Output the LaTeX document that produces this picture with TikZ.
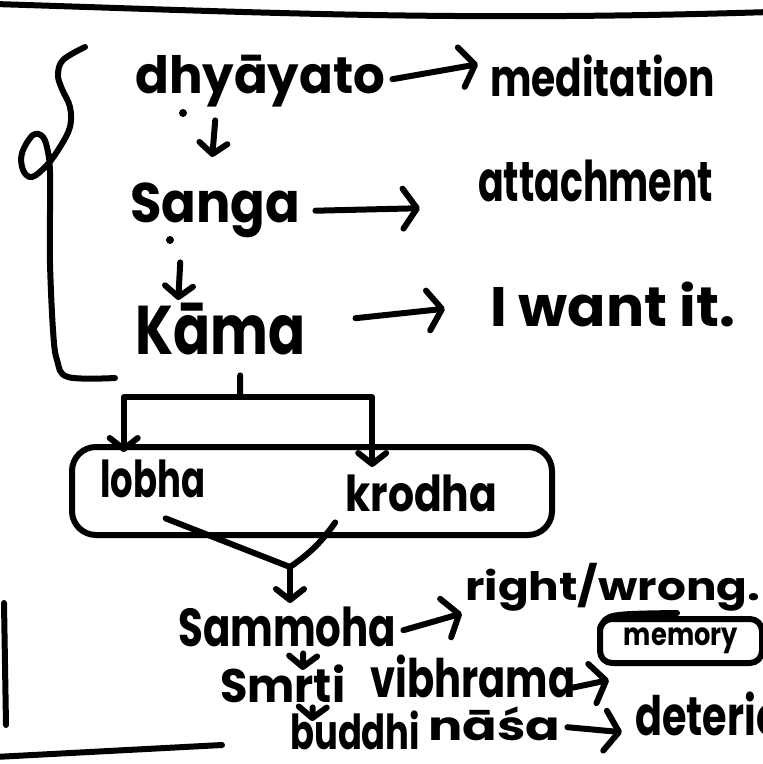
\documentclass[tikz,border=0pt]{standalone}
\usepackage{fontspec}
\setmainfont{Poppins}
\usetikzlibrary{arrows.meta}
% a word stretched to a given width and total height
\newcommand\handword[3]{\resizebox*{#1}{#2}{#3}}

\begin{document}
\begin{tikzpicture}[x=1pt,y=-1pt,
  ink/.style={line width=6pt, line cap=round, line join=round},
  word/.style={anchor=north west, inner sep=0pt, font=\bfseries},
  rarr/.style={ink, -{Straight Barb[length=14pt,width=40pt,round]}},
  darr/.style={ink, -{Straight Barb[length=11pt,width=28pt,round]}},
]
\useasboundingbox (0,0) rectangle (763,764);
\clip (0,0) rectangle (763,764);

% page frame strokes
\draw[ink] (-5,4) .. controls (250,12) and (450,22) .. (770,12);
\draw[ink] (4,603) -- (6,725);
\draw[ink] (-5,757) -- (222,745);

% brace grouping the first three steps
\draw[ink] plot[smooth, tension=0.6] coordinates {(85,47) (63,60) (58,75) (62,89) (70,107) (70,127) (60,147) (47,165) (32,177) (23,170) (22,153) (33,135) (43,137) (48,152) (50,172) (50,213) (50,263) (53,330) (57,360) (68,377) (115,378)};

% words
\node[word] (dhy)  at (135,55)  {\handword{250pt}{52pt}{dhyāyato}};
\node[word] (med)  at (490,55)  {\handword{225pt}{42pt}{meditation}};
\node[word] (san)  at (130,183) {\handword{170pt}{55pt}{Sanga}};
\node[word] (att)  at (478,160) {\handword{235pt}{42pt}{attachment}};
\node[word] (kam)  at (135,303) {\handword{170pt}{52pt}{Kāma}};
\node[word] (want) at (490,282) {\handword{245pt}{45pt}{I want it.}};

\node[ink, draw, rounded corners=24pt, minimum width=480pt, minimum height=88pt, inner sep=0pt] (grp) at (312,491) {};
\node[word] (lob)  at (100,460) {\handword{105pt}{38pt}{lobha}};
\node[word] (kro)  at (345,475) {\handword{152pt}{37pt}{krodha}};

\node[word] (sam)  at (178,607) {\handword{218pt}{40pt}{Sammoha}};
\node[word] (rw)   at (465,563) {\handword{295pt}{48pt}{right/wrong.}};
\node[word] (smr)  at (220,665) {\handword{125pt}{38pt}{Smrti}};
\node[word] (vib)  at (370,655) {\handword{205pt}{43pt}{vibhrama}};
\node[ink, draw, rounded corners=12pt, minimum width=162pt, minimum height=44pt, inner sep=0pt, font=\bfseries] (mem) at (681,641) {\handword{114pt}{26pt}{memory}};
\node[word] (bud)  at (290,711) {\handword{130pt}{39pt}{buddhi}};
\node[word] (nas)  at (428,707) {\handword{132pt}{34pt}{nāśa}};
\node[word] (det)  at (635,692) {\handword{270pt}{44pt}{deterioration}};

% dots under the words
\fill (183,113) circle (4pt);
\fill (170,240) circle (4pt);

% sideways meanings
\draw[rarr] ([xshift=7pt,yshift=2pt]dhy.east) -- ([xshift=-12pt,yshift=12pt]med.west);
\draw[rarr] ([xshift=15pt]san.east) -- ([xshift=-58pt,yshift=-27pt]att.west);
\draw[rarr] ([xshift=50pt,yshift=11pt]kam.east) -- ([xshift=-45pt,yshift=-4pt]want.west);

% chain downwards
\draw[darr] ([xshift=-45pt,yshift=-13pt]dhy.south) -- ([xshift=-3pt,yshift=26pt]san.north);
\draw[darr] ([xshift=-35pt,yshift=-24pt]san.south) -- ([xshift=-42pt,yshift=3pt]kam.north);

% split into lobha and krodha
\coordinate (split) at (240,397);
\draw[ink] ([xshift=20pt,yshift=-20pt]kam.south) -- (split);
\draw[darr] (split) -| ([xshift=-29pt,yshift=8pt]lob.north);
\draw[darr] (split) -| ([xshift=-49pt,yshift=8pt]kro.north);

% both lead to sammoha
\coordinate (merge) at (290,567);
\draw[ink] ([xshift=13pt,yshift=-20pt]lob.south) -- (merge);
\draw[ink] ([xshift=-86pt,yshift=-10pt]kro.south) to[bend left=10] (merge);
\draw[darr] (merge) -- ([yshift=4pt]merge |- sam.north);

\draw[rarr] ([xshift=7pt,yshift=-3pt]sam.east) -- ([xshift=-3pt,yshift=-2pt]rw.south west);
\draw[darr] ([xshift=16pt,yshift=-6pt]sam.south) -- ([xshift=20pt,yshift=-5pt]smr.north);
\draw[rarr] ([xshift=-3pt,yshift=-11pt]vib.east) -- ([xshift=12pt,yshift=-14pt]mem.south west);
\draw[ink] ([xshift=3pt,yshift=-12pt]mem.north west) .. controls ([xshift=10pt,yshift=2pt]mem.north west) .. ([xshift=80pt,yshift=3pt]mem.north west);
\draw[darr] ([xshift=30pt,yshift=-4pt]smr.south) -- ([xshift=-43pt,yshift=-10pt]bud.north);
\draw[rarr] ([xshift=7pt,yshift=-3pt]nas.east) -- ([xshift=-13pt,yshift=-18pt]det.west);
\end{tikzpicture}
\end{document}
